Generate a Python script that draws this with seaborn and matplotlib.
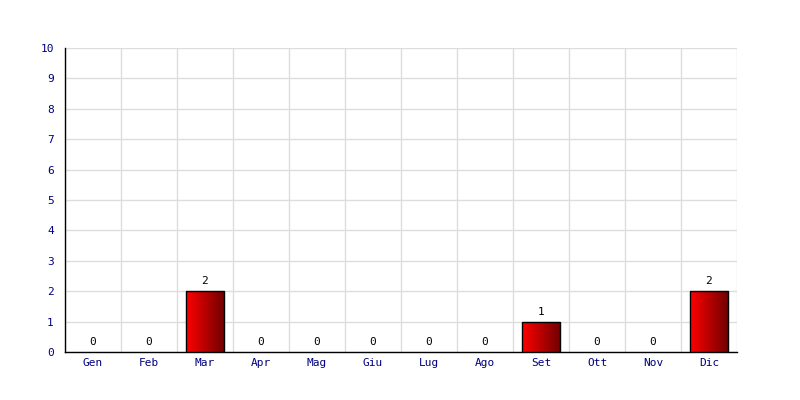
import numpy as np
import pandas as pd
import matplotlib
matplotlib.use('Agg')
import matplotlib.pyplot as plt
import seaborn as sns
from matplotlib.colors import LinearSegmentedColormap

months = ['Gen', 'Feb', 'Mar', 'Apr', 'Mag', 'Giu', 'Lug', 'Ago', 'Set', 'Ott', 'Nov', 'Dic']
counts = [0, 0, 2, 0, 0, 0, 0, 0, 1, 0, 0, 2]
y_ticks = list(range(0, 11))

df = pd.DataFrame({'mese': months, 'n': counts})

sns.set_style('white')
plt.rcParams['font.family'] = ['DejaVu Sans Mono']

fig = plt.figure(figsize=(8, 4), dpi=100)
ax = fig.add_axes([0.08125, 0.12, 0.84, 0.76])

sns.barplot(data=df, x='mese', y='n', color='#dd0000', width=0.68,
            edgecolor='black', linewidth=1, saturation=1, ax=ax, zorder=3)

# gradiente rosso -> rosso scuro dentro ogni barra
cmap = LinearSegmentedColormap.from_list('rosso', ['#ff0000', '#6e0000'])
grad = np.linspace(0, 1, 256).reshape(1, -1)
for p in ax.patches:
    h = p.get_height()
    if h <= 0:
        p.set_visible(False)
        continue
    x0 = p.get_x()
    w = p.get_width()
    im = ax.imshow(grad, cmap=cmap, aspect='auto', extent=[x0, x0 + w, 0, h],
                   zorder=3.5, interpolation='bilinear')
    im.set_clip_path(p)
    p.set_facecolor('none')
    p.set_zorder(4)

for i, v in enumerate(counts):
    ax.text(i, v + 0.16, str(v), ha='center', va='bottom', fontsize=8, color='black', zorder=5)

ax.set_xlim(-0.5, len(months) - 0.5)
ax.set_ylim(0, 10)
ax.set_yticks(y_ticks)
ax.set_xticks(np.arange(-0.5, len(months), 1), minor=True)
ax.grid(True, which='minor', axis='x', color='#dddddd', linewidth=1, zorder=0)
ax.grid(True, which='major', axis='y', color='#dddddd', linewidth=1, zorder=0)
ax.set_axisbelow(True)

ax.set_xlabel('')
ax.set_ylabel('')
ax.tick_params(axis='both', which='both', length=0, labelsize=8, labelcolor='#000080')
ax.tick_params(axis='y', pad=8)
ax.tick_params(axis='x', pad=4)

for s in ['top', 'right']:
    ax.spines[s].set_visible(False)
for s in ['left', 'bottom']:
    ax.spines[s].set_color('black')
    ax.spines[s].set_linewidth(1)

fig.savefig('out.png', dpi=100)
